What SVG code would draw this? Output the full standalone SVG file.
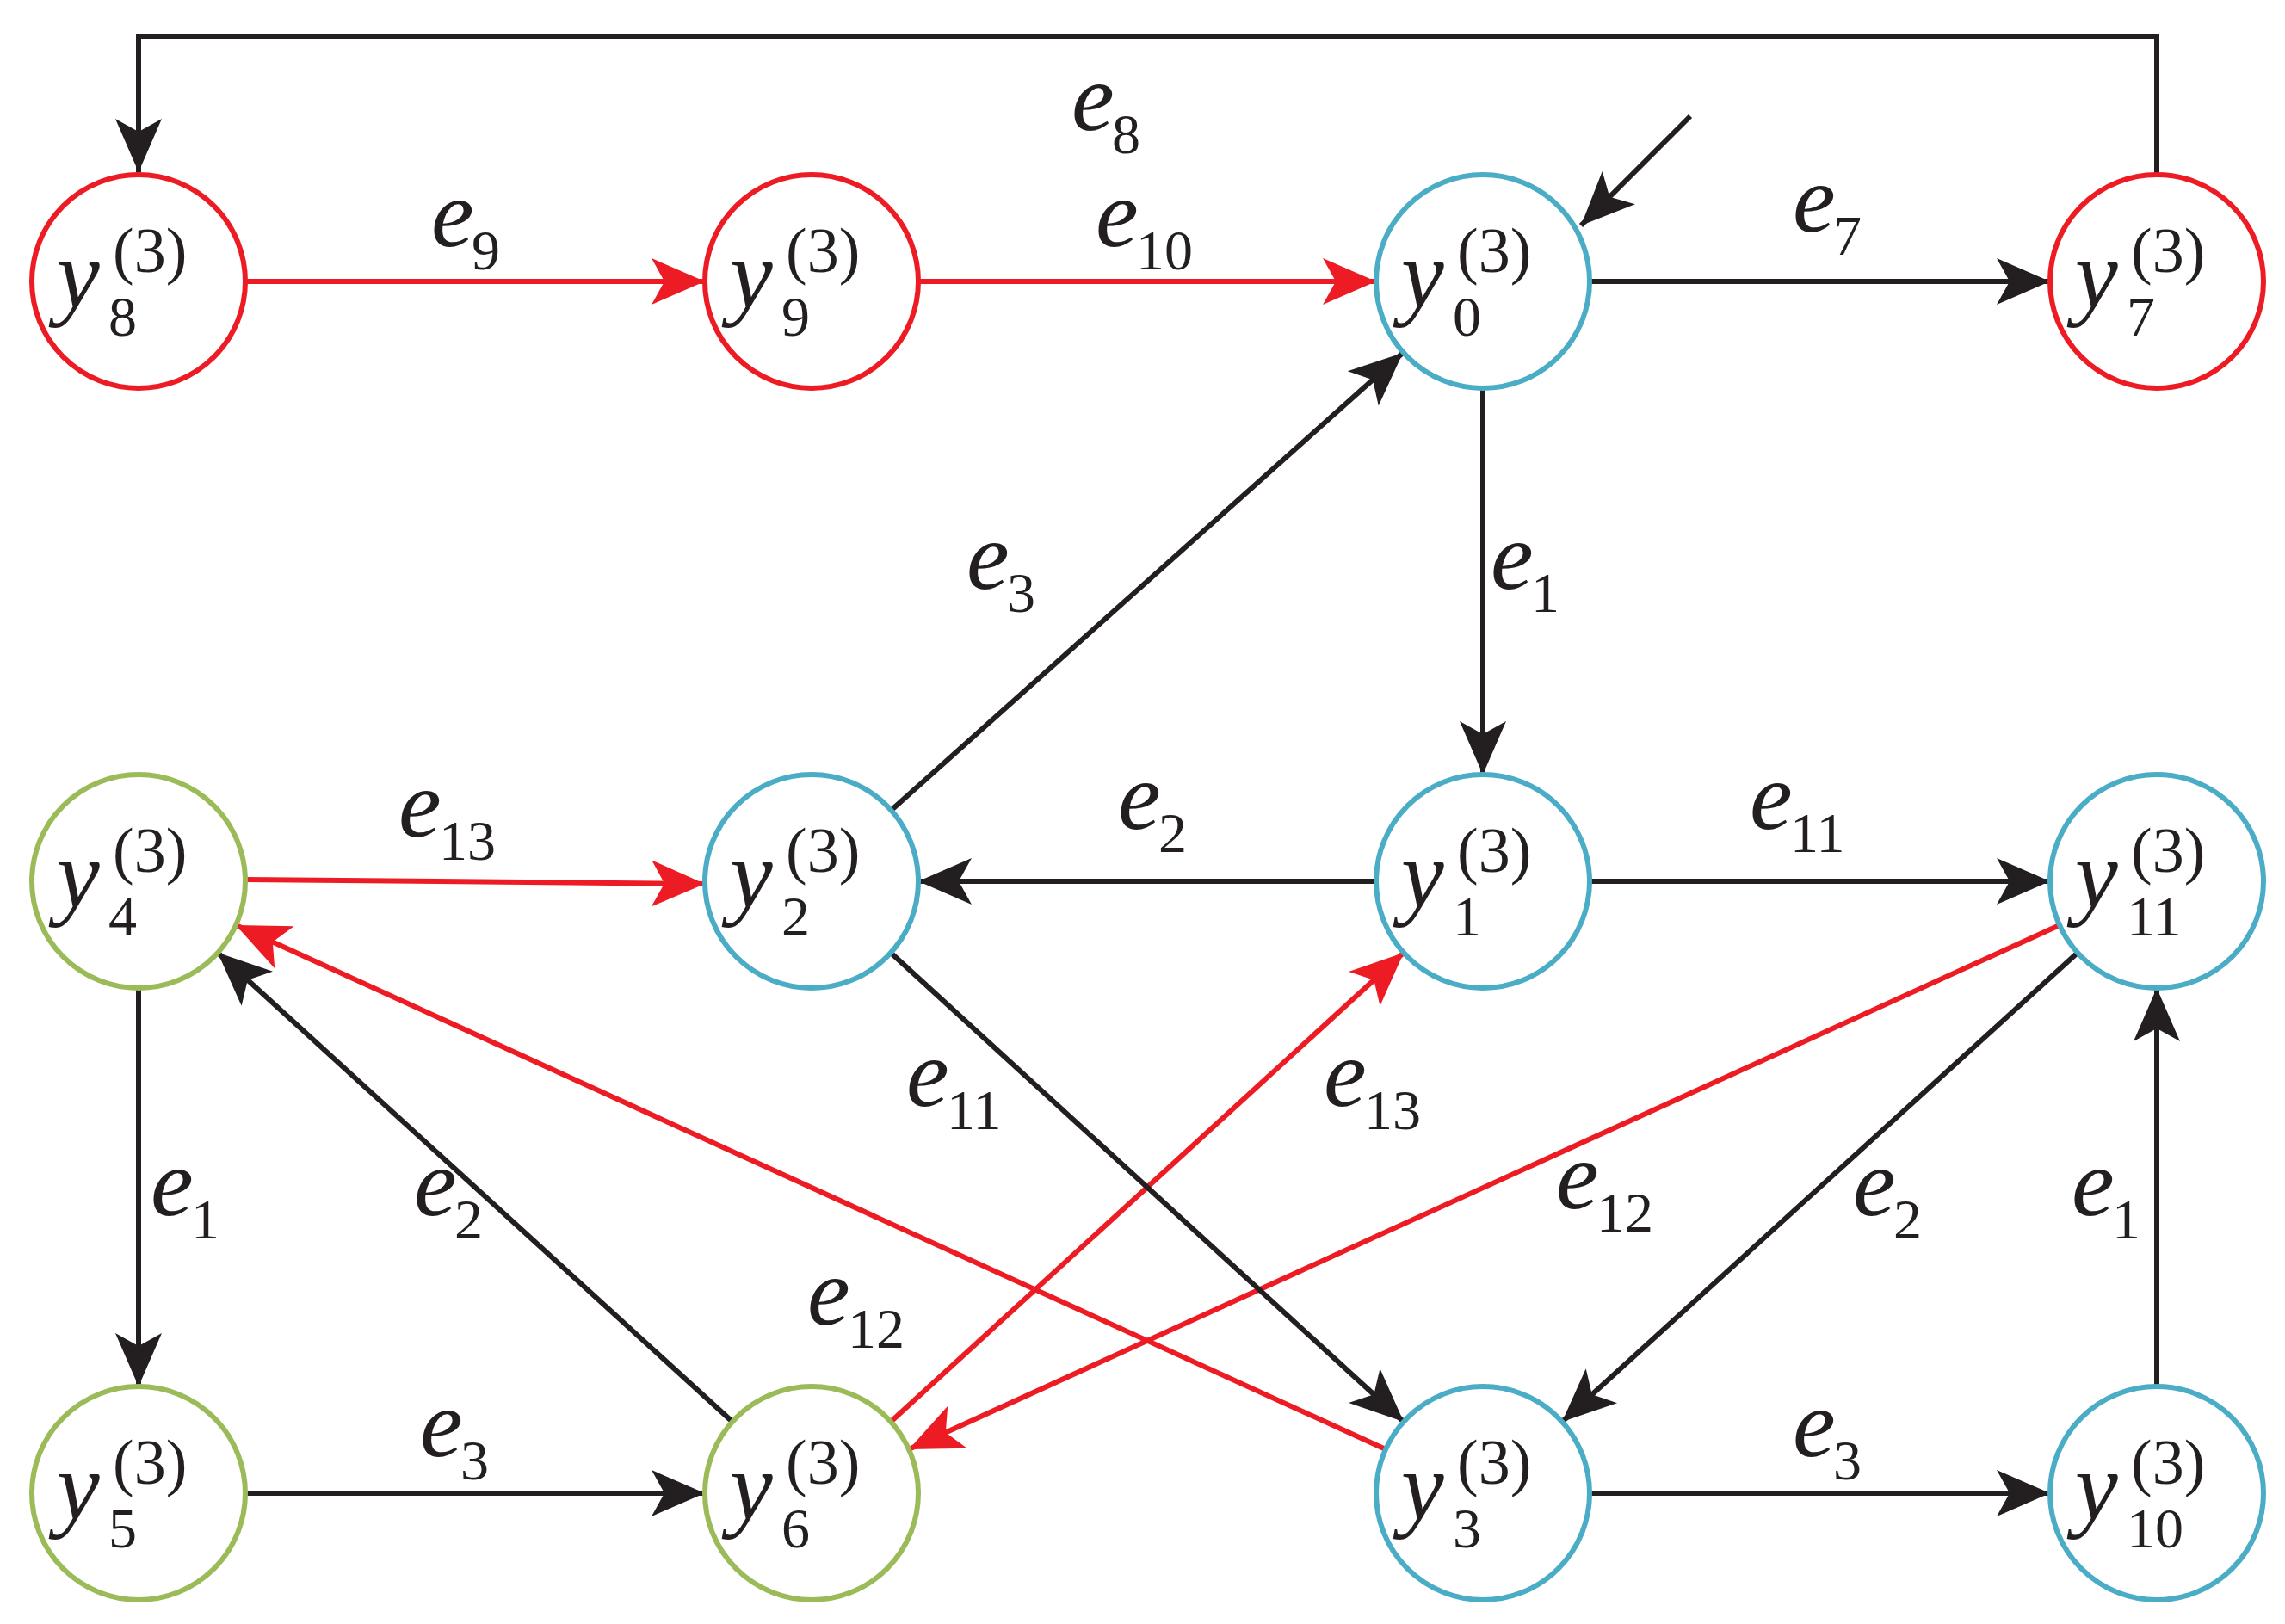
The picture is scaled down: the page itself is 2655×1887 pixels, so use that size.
<svg xmlns="http://www.w3.org/2000/svg" width="2655" height="1887" viewBox="0 0 2655 1887">
<style>
.r{fill:none;stroke:#ed1c24;stroke-width:6}
.b{fill:none;stroke:#4bacc6;stroke-width:6}
.g{fill:none;stroke:#9bbb59;stroke-width:6}
.k{stroke:#231f20;stroke-width:6;fill:none;marker-end:url(#ak)}
.kr{stroke:#ed1c24;stroke-width:6;fill:none;marker-end:url(#ar)}
text{font-family:"Liberation Serif","Times New Roman",serif;fill:#231f20}
.v{font-size:112px;font-style:italic}
.s{font-size:66px}
.n{font-size:74px}
</style>
<defs>
<marker id="ak" markerUnits="userSpaceOnUse" markerWidth="70" markerHeight="60" viewBox="-65 -30 70 60" refX="0" refY="0" orient="auto"><path d="M0,0 L-62,-27 L-47,0 L-62,27 Z" fill="#231f20"/></marker>
<marker id="ar" markerUnits="userSpaceOnUse" markerWidth="70" markerHeight="60" viewBox="-65 -30 70 60" refX="0" refY="0" orient="auto"><path d="M0,0 L-62,-27 L-47,0 L-62,27 Z" fill="#ed1c24"/></marker>
</defs>
<rect width="2655" height="1887" fill="#fff"/>
<g id="connectors">
<path class="k" d="M2506,203 V42 H161 V200"/>
<line class="kr" x1="285" y1="327" x2="819" y2="327"/>
<line class="kr" x1="1067" y1="327" x2="1599" y2="327"/>
<line class="k" x1="1847" y1="327" x2="2382" y2="327"/>
<line class="k" x1="1964" y1="135" x2="1837" y2="262"/>
<line class="k" x1="1723" y1="451" x2="1723" y2="900"/>
<line class="k" x1="1036" y1="941" x2="1630" y2="410"/>
<line class="k" x1="1599" y1="1024" x2="1067" y2="1024"/>
<line class="k" x1="1847" y1="1024" x2="2382" y2="1024"/>
<line class="kr" x1="285" y1="1022" x2="819" y2="1027"/>
<line class="k" x1="161" y1="1148" x2="161" y2="1611"/>
<line class="k" x1="285" y1="1735" x2="819" y2="1735"/>
<line class="k" x1="851" y1="1652" x2="253" y2="1107"/>
<line class="kr" x1="1035" y1="1652" x2="1631" y2="1107"/>
<line class="kr" x1="1610" y1="1684" x2="274" y2="1075"/>
<line class="kr" x1="2393" y1="1075" x2="1056" y2="1684"/>
<line class="k" x1="1035" y1="1107" x2="1631" y2="1652"/>
<line class="k" x1="2414" y1="1107" x2="1815" y2="1652"/>
<line class="k" x1="2506" y1="1611" x2="2506" y2="1148"/>
<line class="k" x1="1847" y1="1735" x2="2382" y2="1735"/>
</g>
<g id="labels">
<text class="v" x="1245" y="151">e</text><text class="s" x="1292" y="178">8</text>
<text class="v" x="501" y="286">e</text><text class="s" x="548" y="313">9</text>
<text class="v" x="1273" y="286">e</text><text class="s" x="1320" y="313">10</text>
<text class="v" x="2083" y="269">e</text><text class="s" x="2130" y="296">7</text>
<text class="v" x="1732" y="684">e</text><text class="s" x="1779" y="711">1</text>
<text class="v" x="1123" y="684">e</text><text class="s" x="1170" y="711">3</text>
<text class="v" x="1299" y="963">e</text><text class="s" x="1346" y="990">2</text>
<text class="v" x="2033" y="963">e</text><text class="s" x="2080" y="990">11</text>
<text class="v" x="463" y="972">e</text><text class="s" x="510" y="999">13</text>
<text class="v" x="175" y="1412">e</text><text class="s" x="222" y="1439">1</text>
<text class="v" x="488" y="1692">e</text><text class="s" x="535" y="1719">3</text>
<text class="v" x="481" y="1412">e</text><text class="s" x="528" y="1439">2</text>
<text class="v" x="938" y="1539">e</text><text class="s" x="985" y="1566">12</text>
<text class="v" x="1538" y="1285">e</text><text class="s" x="1585" y="1312">13</text>
<text class="v" x="1053" y="1285">e</text><text class="s" x="1100" y="1312">11</text>
<text class="v" x="1808" y="1404">e</text><text class="s" x="1855" y="1431">12</text>
<text class="v" x="2153" y="1412">e</text><text class="s" x="2200" y="1439">2</text>
<text class="v" x="2407" y="1412">e</text><text class="s" x="2454" y="1439">1</text>
<text class="v" x="2083" y="1692">e</text><text class="s" x="2130" y="1719">3</text>
</g>
<g id="y8"><circle class="r" cx="161" cy="327" r="124"/><text class="v" x="66" y="357">y</text><text class="n" x="131" y="316">(3)</text><text class="s" x="126" y="390">8</text></g>
<g id="y9"><circle class="r" cx="943" cy="327" r="124"/><text class="v" x="848" y="357">y</text><text class="n" x="913" y="316">(3)</text><text class="s" x="908" y="390">9</text></g>
<g id="y0"><circle class="b" cx="1723" cy="327" r="124"/><text class="v" x="1628" y="357">y</text><text class="n" x="1693" y="316">(3)</text><text class="s" x="1688" y="390">0</text></g>
<g id="y7"><circle class="r" cx="2506" cy="327" r="124"/><text class="v" x="2411" y="357">y</text><text class="n" x="2476" y="316">(3)</text><text class="s" x="2471" y="390">7</text></g>
<g id="y4"><circle class="g" cx="161" cy="1024" r="124"/><text class="v" x="66" y="1054">y</text><text class="n" x="131" y="1013">(3)</text><text class="s" x="126" y="1087">4</text></g>
<g id="y2"><circle class="b" cx="943" cy="1024" r="124"/><text class="v" x="848" y="1054">y</text><text class="n" x="913" y="1013">(3)</text><text class="s" x="908" y="1087">2</text></g>
<g id="y1"><circle class="b" cx="1723" cy="1024" r="124"/><text class="v" x="1628" y="1054">y</text><text class="n" x="1693" y="1013">(3)</text><text class="s" x="1688" y="1087">1</text></g>
<g id="y11"><circle class="b" cx="2506" cy="1024" r="124"/><text class="v" x="2411" y="1054">y</text><text class="n" x="2476" y="1013">(3)</text><text class="s" x="2471" y="1087">11</text></g>
<g id="y5"><circle class="g" cx="161" cy="1735" r="124"/><text class="v" x="66" y="1765">y</text><text class="n" x="131" y="1724">(3)</text><text class="s" x="126" y="1798">5</text></g>
<g id="y6"><circle class="g" cx="943" cy="1735" r="124"/><text class="v" x="848" y="1765">y</text><text class="n" x="913" y="1724">(3)</text><text class="s" x="908" y="1798">6</text></g>
<g id="y3"><circle class="b" cx="1723" cy="1735" r="124"/><text class="v" x="1628" y="1765">y</text><text class="n" x="1693" y="1724">(3)</text><text class="s" x="1688" y="1798">3</text></g>
<g id="y10"><circle class="b" cx="2506" cy="1735" r="124"/><text class="v" x="2411" y="1765">y</text><text class="n" x="2476" y="1724">(3)</text><text class="s" x="2471" y="1798">10</text></g>
</svg>
